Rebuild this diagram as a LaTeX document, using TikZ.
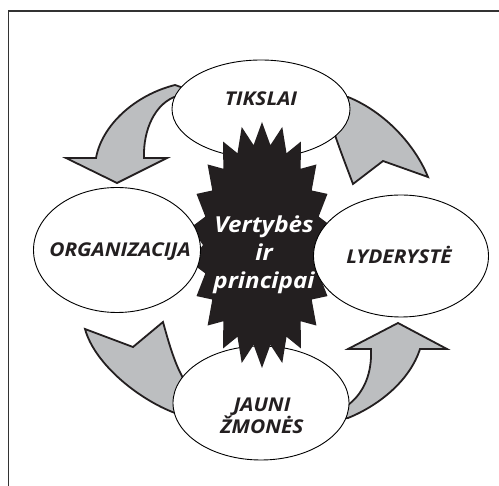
\documentclass[tikz,border=0pt]{standalone}
\usepackage{fontspec}
\setmainfont{Open Sans}[FakeStretch=1.1]
\usetikzlibrary{shapes.geometric}
\definecolor{arrowgray}{HTML}{BCBEC0}
\definecolor{framegray}{HTML}{333333}
\definecolor{starblack}{HTML}{231F20}
\tikzset{
  bubble/.style={ellipse, draw=black, line width=0.9pt, fill=white, inner sep=0pt},
  flow/.style={fill=arrowgray, draw=starblack, line width=1.8pt, line join=miter},
  lbl/.style={font=\fontsize{19}{22}\selectfont\bfseries\itshape, align=center, text=starblack},
  starlbl/.style={font=\fontsize{22}{28}\selectfont\bfseries\itshape, align=center, text=white}
}
\begin{document}
\begin{tikzpicture}[x=1pt,y=-1pt]
\useasboundingbox (0,0) rectangle (499,486);
% frame (top and left edges)
\draw[framegray, line width=1.3pt] (8.5,486) -- (8.5,11) -- (499,11);
% arrows
\path[flow] (195,92) -- (175,85) .. controls (135,95) and (102,125) .. (96,158)
  -- (66,158) -- (117,183) -- (167,158) -- (144,158)
  .. controls (143,130) and (155,103) .. (177,96) -- (195,100) -- cycle;
\path[flow] (330,98) -- (348,97) .. controls (385,112) and (415,145) .. (428,177)
  -- (383,161) -- (353,184) .. controls (347,168) and (340,150) .. (335,135)
  -- (320,130) -- cycle;
\path[flow] (85,329) -- (133,347) -- (163,322) .. controls (168,340) and (174,362) .. (183,378)
  -- (195,380) -- (195,415) -- (175,413) .. controls (140,400) and (95,365) .. (85,329) -- cycle;
\path[flow] (335,410) -- (348,405) .. controls (365,392) and (372,372) .. (371,349)
  -- (348,349) -- (398,323) -- (447,349) -- (420,349)
  .. controls (410,380) and (380,405) .. (348,418) -- (335,420) -- cycle;
% top and bottom bubbles (below star)
\node[bubble, minimum width=178pt, minimum height=98pt] (tik) at (261,109) {};
\node[bubble, minimum width=176pt, minimum height=114pt] (jau) at (261,403) {};
% star
\fill[starblack] plot[samples at={0,...,43}]
  ({262+72*(1-0.18*mod(\x,2))*cos(90+\x*360/44)},{245-123*(1-0.18*mod(\x,2))*sin(90+\x*360/44)}) -- cycle;
% side bubbles (above star)
\node[bubble, minimum width=167pt, minimum height=125pt] (org) at (117,250) {};
\node[bubble, minimum width=175pt, minimum height=122pt] (lyd) at (401,256) {};
% labels
\node[lbl] (tiktxt) at (261,99) {TIKSLAI};
\node[lbl] (orgtxt) at (120,252) {ORGANIZACIJA};
\node[lbl] (lydtxt) at (399,255) {LYDERYSTĖ};
\node[lbl] (jautxt) at (262,416) {JAUNI\\ŽMONĖS};
\node[starlbl] (startxt) at (264,255) {Vertybės\\ir\\principai};
\end{tikzpicture}
\end{document}
